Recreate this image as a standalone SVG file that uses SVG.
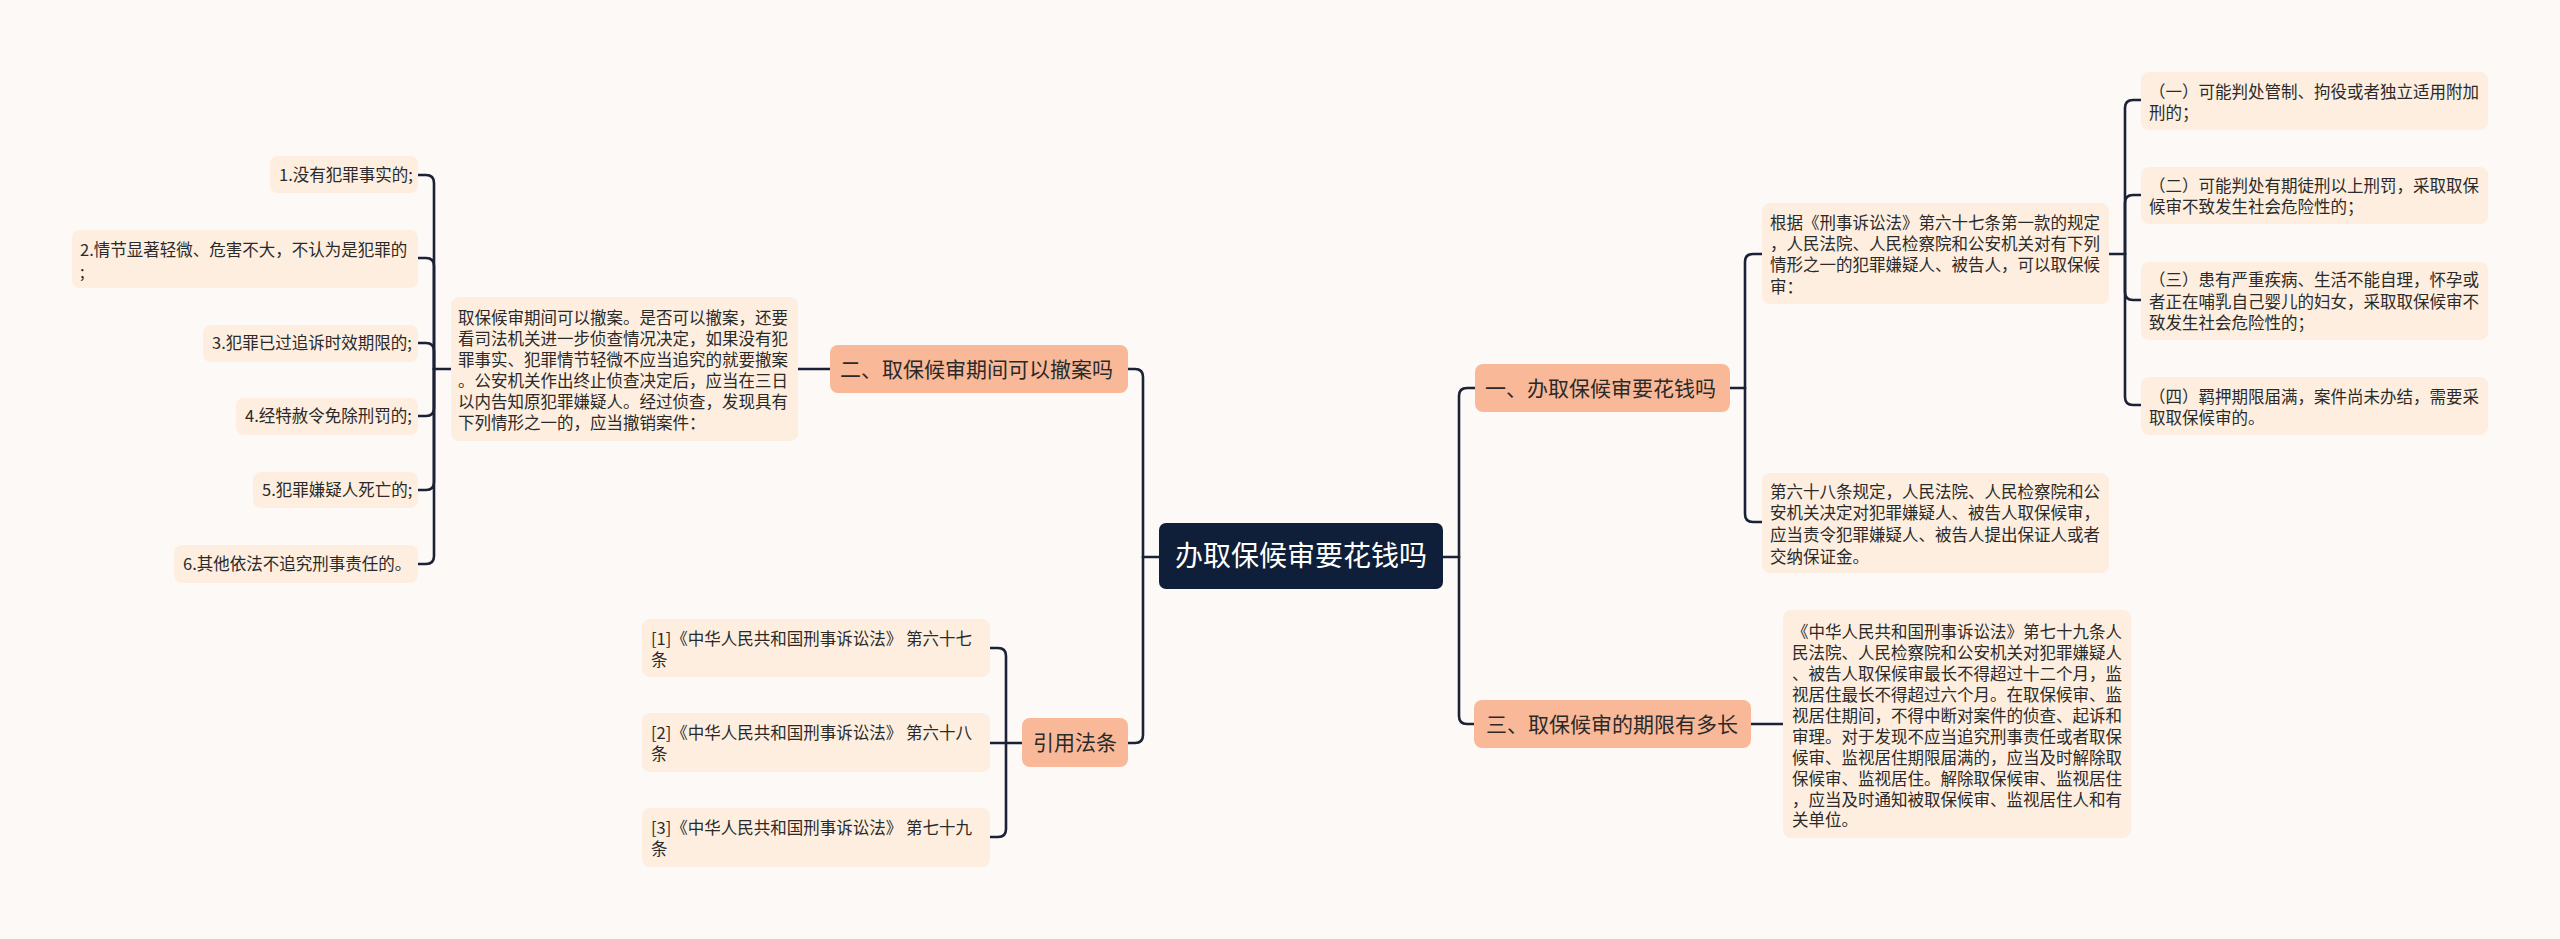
<svg xmlns="http://www.w3.org/2000/svg" width="2560" height="939" viewBox="0 0 2560 939">
<style>
.bg{fill:#fdf9f7}
.leaf{fill:#fdeedf}
.main{fill:#f9b999}
.root{fill:#0f1f39}
.t{font-family:"Noto Sans CJK SC","Microsoft YaHei",sans-serif;fill:#2a2a2a}
.ts{font-size:16.5px}
.tm{font-size:21px}
.tr{font-size:28px;fill:#ffffff}
.c{fill:none;stroke:#1b2236;stroke-width:2.6;stroke-linecap:round;stroke-linejoin:round}
</style>
<rect class="bg" x="0" y="0" width="2560" height="939"/>
<g id="connectors">
<path class="c" d="M1159,557 H1143"/>
<path class="c" d="M1143,557 V377 Q1143,369 1135,369 H1128"/>
<path class="c" d="M1143,557 V735 Q1143,743 1135,743 H1128"/>
<path class="c" d="M1443,557 H1459"/>
<path class="c" d="M1459,557 V396 Q1459,388 1467,388 H1475"/>
<path class="c" d="M1459,557 V716 Q1459,724 1467,724 H1474"/>
<path class="c" d="M830,369 H798"/>
<path class="c" d="M451,369 H434"/>
<path class="c" d="M434,369 V183 Q434,175 426,175 H418"/>
<path class="c" d="M434,369 V266 Q434,258 426,258 H418"/>
<path class="c" d="M434,369 V351 Q434,343 426,343 H418"/>
<path class="c" d="M434,369 V408 Q434,416 426,416 H418"/>
<path class="c" d="M434,369 V482 Q434,490 426,490 H418"/>
<path class="c" d="M434,369 V556 Q434,564 426,564 H418"/>
<path class="c" d="M1022,743 H1006"/>
<path class="c" d="M1006,743 V656 Q1006,648 998,648 H990"/>
<path class="c" d="M1006,743 H990"/>
<path class="c" d="M1006,743 V829 Q1006,837 998,837 H990"/>
<path class="c" d="M1730,388 H1745"/>
<path class="c" d="M1745,388 V262 Q1745,254 1753,254 H1762"/>
<path class="c" d="M1745,388 V514 Q1745,522 1753,522 H1762"/>
<path class="c" d="M2109,254 H2125"/>
<path class="c" d="M2125,254 V108 Q2125,100 2133,100 H2141"/>
<path class="c" d="M2125,254 V203 Q2125,195 2133,195 H2141"/>
<path class="c" d="M2125,254 V292 Q2125,300 2133,300 H2141"/>
<path class="c" d="M2125,254 V397 Q2125,405 2133,405 H2141"/>
<path class="c" d="M1751,724 H1783"/>
</g>
<g id="root">
<rect class="root" x="1159" y="523" width="284" height="66" rx="7"/>
<text class="t tr" x="1301" y="566" text-anchor="middle">办取保候审要花钱吗</text>
</g>
<g id="n2">
<rect class="main" x="830" y="345" width="298" height="48" rx="8"/>
<text class="t tm" x="840" y="377">二、取保候审期间可以撤案吗</text>
</g>
<g id="n2d">
<rect class="leaf" x="451" y="297" width="347" height="144" rx="8"/>
<text class="t ts" x="458" y="324">取保候审期间可以撤案。是否可以撤案，还要</text>
<text class="t ts" x="458" y="345">看司法机关进一步侦查情况决定，如果没有犯</text>
<text class="t ts" x="458" y="366">罪事实、犯罪情节轻微不应当追究的就要撤案</text>
<text class="t ts" x="458" y="387">。公安机关作出终止侦查决定后，应当在三日</text>
<text class="t ts" x="458" y="408">以内告知原犯罪嫌疑人。经过侦查，发现具有</text>
<text class="t ts" x="458" y="429">下列情形之一的，应当撤销案件：</text>
</g>
<g id="l1">
<rect class="leaf" x="270" y="156" width="148" height="37" rx="8"/>
<text class="t ts" x="279" y="181">1.没有犯罪事实的;</text>
</g>
<g id="l2">
<rect class="leaf" x="72" y="230" width="346" height="58" rx="8"/>
<text class="t ts" x="80" y="256">2.情节显著轻微、危害不大，不认为是犯罪的</text>
<text class="t ts" x="80" y="278">;</text>
</g>
<g id="l3">
<rect class="leaf" x="203" y="325" width="215" height="37" rx="8"/>
<text class="t ts" x="212" y="349">3.犯罪已过追诉时效期限的;</text>
</g>
<g id="l4">
<rect class="leaf" x="236" y="398" width="182" height="37" rx="8"/>
<text class="t ts" x="245" y="422">4.经特赦令免除刑罚的;</text>
</g>
<g id="l5">
<rect class="leaf" x="253" y="472" width="165" height="36" rx="8"/>
<text class="t ts" x="262" y="496">5.犯罪嫌疑人死亡的;</text>
</g>
<g id="l6">
<rect class="leaf" x="174" y="545" width="244" height="38" rx="8"/>
<text class="t ts" x="183" y="570">6.其他依法不追究刑事责任的。</text>
</g>
<g id="ref">
<rect class="main" x="1022" y="718" width="106" height="49" rx="8"/>
<text class="t tm" x="1033" y="750">引用法条</text>
</g>
<g id="ref1">
<rect class="leaf" x="642" y="619" width="348" height="58" rx="8"/>
<text class="t ts" x="651" y="645">[1]《中华人民共和国刑事诉讼法》 第六十七</text>
<text class="t ts" x="651" y="666">条</text>
</g>
<g id="ref2">
<rect class="leaf" x="642" y="713" width="348" height="59" rx="8"/>
<text class="t ts" x="651" y="739">[2]《中华人民共和国刑事诉讼法》 第六十八</text>
<text class="t ts" x="651" y="760">条</text>
</g>
<g id="ref3">
<rect class="leaf" x="642" y="808" width="348" height="59" rx="8"/>
<text class="t ts" x="651" y="834">[3]《中华人民共和国刑事诉讼法》 第七十九</text>
<text class="t ts" x="651" y="855">条</text>
</g>
<g id="n1">
<rect class="main" x="1475" y="364" width="255" height="48" rx="8"/>
<text class="t tm" x="1485" y="396">一、办取保候审要花钱吗</text>
</g>
<g id="n1a">
<rect class="leaf" x="1762" y="203" width="347" height="101" rx="8"/>
<text class="t ts" x="1770" y="229">根据《刑事诉讼法》第六十七条第一款的规定</text>
<text class="t ts" x="1770" y="250">，人民法院、人民检察院和公安机关对有下列</text>
<text class="t ts" x="1770" y="271">情形之一的犯罪嫌疑人、被告人，可以取保候</text>
<text class="t ts" x="1770" y="293">审：</text>
</g>
<g id="n1b">
<rect class="leaf" x="1762" y="473" width="347" height="100" rx="8"/>
<text class="t ts" x="1770" y="498">第六十八条规定，人民法院、人民检察院和公</text>
<text class="t ts" x="1770" y="519">安机关决定对犯罪嫌疑人、被告人取保候审，</text>
<text class="t ts" x="1770" y="541">应当责令犯罪嫌疑人、被告人提出保证人或者</text>
<text class="t ts" x="1770" y="563">交纳保证金。</text>
</g>
<g id="c1">
<rect class="leaf" x="2141" y="72" width="347" height="58" rx="8"/>
<text class="t ts" x="2149" y="98">（一）可能判处管制、拘役或者独立适用附加</text>
<text class="t ts" x="2149" y="119">刑的；</text>
</g>
<g id="c2">
<rect class="leaf" x="2141" y="167" width="347" height="57" rx="8"/>
<text class="t ts" x="2149" y="192">（二）可能判处有期徒刑以上刑罚，采取取保</text>
<text class="t ts" x="2149" y="213">候审不致发生社会危险性的；</text>
</g>
<g id="c3">
<rect class="leaf" x="2141" y="262" width="347" height="78" rx="8"/>
<text class="t ts" x="2149" y="286">（三）患有严重疾病、生活不能自理，怀孕或</text>
<text class="t ts" x="2149" y="308">者正在哺乳自己婴儿的妇女，采取取保候审不</text>
<text class="t ts" x="2149" y="329">致发生社会危险性的；</text>
</g>
<g id="c4">
<rect class="leaf" x="2141" y="377" width="347" height="58" rx="8"/>
<text class="t ts" x="2149" y="403">（四）羁押期限届满，案件尚未办结，需要采</text>
<text class="t ts" x="2149" y="424">取取保候审的。</text>
</g>
<g id="n3">
<rect class="main" x="1474" y="700" width="277" height="48" rx="8"/>
<text class="t tm" x="1486" y="732">三、取保候审的期限有多长</text>
</g>
<g id="n3a">
<rect class="leaf" x="1783" y="610" width="348" height="228" rx="8"/>
<text class="t ts" x="1792" y="638">《中华人民共和国刑事诉讼法》第七十九条人</text>
<text class="t ts" x="1792" y="659">民法院、人民检察院和公安机关对犯罪嫌疑人</text>
<text class="t ts" x="1792" y="680">、被告人取保候审最长不得超过十二个月，监</text>
<text class="t ts" x="1792" y="701">视居住最长不得超过六个月。在取保候审、监</text>
<text class="t ts" x="1792" y="722">视居住期间，不得中断对案件的侦查、起诉和</text>
<text class="t ts" x="1792" y="743">审理。对于发现不应当追究刑事责任或者取保</text>
<text class="t ts" x="1792" y="764">候审、监视居住期限届满的，应当及时解除取</text>
<text class="t ts" x="1792" y="785">保候审、监视居住。解除取保候审、监视居住</text>
<text class="t ts" x="1792" y="806">，应当及时通知被取保候审、监视居住人和有</text>
<text class="t ts" x="1792" y="826">关单位。</text>
</g>
</svg>
